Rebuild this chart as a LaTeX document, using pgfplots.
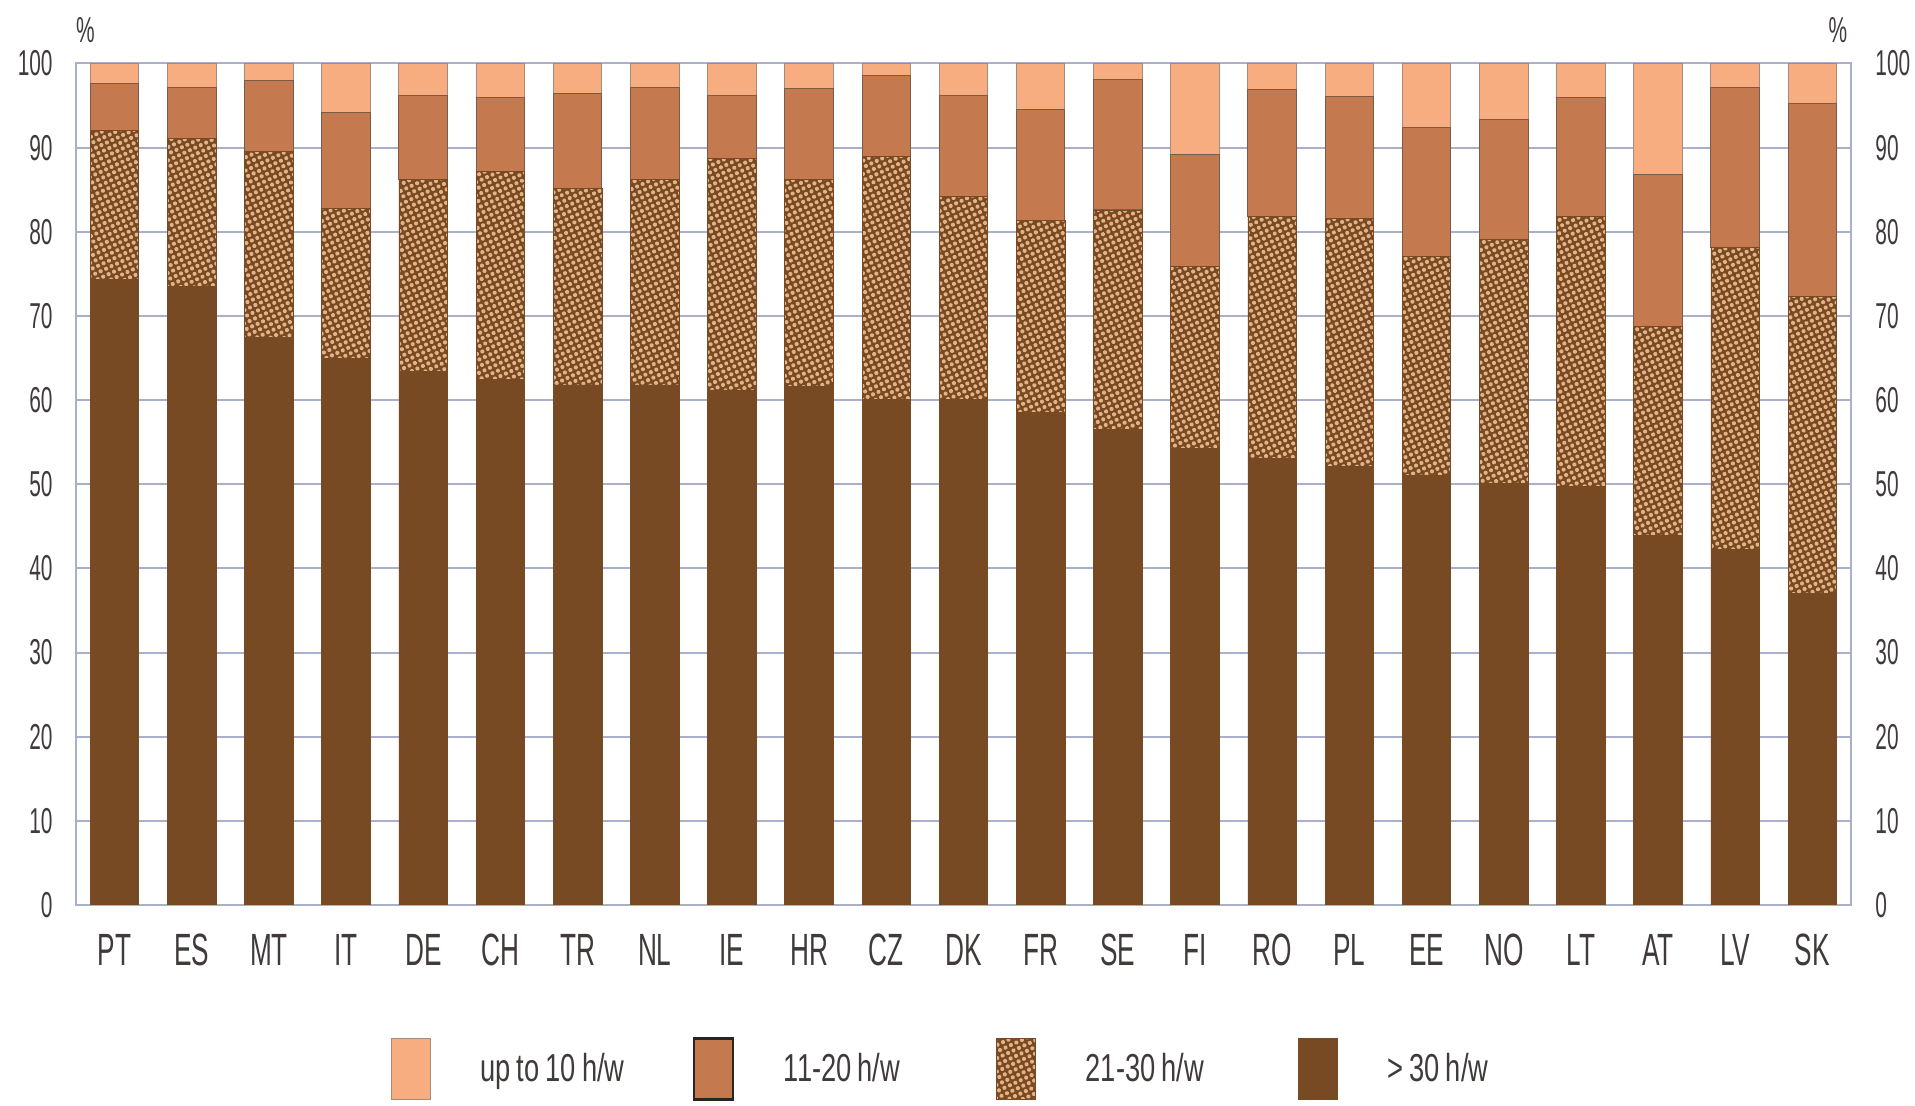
\documentclass[border=0pt]{standalone}
\usepackage{fontspec}
\setmainfont{Liberation Sans}[FakeStretch=0.58]
\newfontfamily\legfont{Liberation Sans}[FakeStretch=0.7]
\usepackage{pgfplots}
\pgfplotsset{compat=1.18}
\usepackage{pgfplotstable}
\usetikzlibrary{patterns.meta}
\definecolor{cLight}{HTML}{F7AD7F}
\definecolor{cMid}{HTML}{C47A4E}
\definecolor{cDark}{HTML}{774A23}
\definecolor{cPatBase}{HTML}{7A4822}
\definecolor{cPatDot}{HTML}{E0B585}
\definecolor{cGrid}{HTML}{AAB0CC}
\definecolor{cText}{HTML}{403A3A}
\definecolor{cEdge}{HTML}{7A5A48}

\pgfplotstableread{
x c a b m l
0 PT 74.3 17.7 5.6 2.4
1 ES 73.5 17.6 6.1 2.8
2 MT 67.4 22.1 8.5 2.0
3 IT 65.0 17.8 11.4 5.8
4 DE 63.4 22.8 10.0 3.8
5 CH 62.5 24.7 8.8 4.0
6 TR 61.8 23.3 11.3 3.6
7 NL 61.8 24.4 11.0 2.8
8 IE 61.2 27.5 7.5 3.8
9 HR 61.6 24.6 10.8 3.0
10 CZ 60.1 28.9 9.6 1.4
11 DK 60.1 24.1 12.0 3.8
12 FR 58.5 22.9 13.1 5.5
13 SE 56.5 26.1 15.5 1.9
14 FI 54.3 21.6 13.3 10.8
15 RO 53.1 28.7 15.1 3.1
16 PL 52.1 29.5 14.5 3.9
17 EE 51.0 26.1 15.3 7.6
18 NO 50.1 29.0 14.3 6.6
19 LT 49.7 32.1 14.1 4.1
20 AT 43.9 24.9 18.0 13.2
21 LV 42.3 35.8 19.1 2.8
22 SK 37.0 35.3 22.9 4.8
}\data

\pgfplotsset{
  mylegimg/.style={legend image code/.code={\draw[##1] (0pt,-15.25pt) rectangle (19.5pt,15.25pt);}},
}
\newcommand{\wsp}{\hspace{3pt}}

\begin{document}
\begin{tikzpicture}
\path[use as bounding box] (-38pt,-100.5pt) rectangle (919.5pt,452.5pt);
\begin{axis}[
  at={(0,0)}, anchor=south west,
  scale only axis, width=887.5pt, height=420.75pt,
  xmin=-0.5, xmax=22.5, ymin=0, ymax=100,
  ybar stacked, bar width=0.63,
  xtick={0,...,22},
  xticklabels from table={\data}{c},
  ytick={0,10,...,100},
  major tick length=0pt,
  ymajorgrids, grid style={cGrid, line width=1pt},
  axis line style={cGrid, line width=1pt},
  /pgf/number format/assume math mode=true,
  tick label style={text=cText},
  xticklabel style={font=\fontsize{22.6}{24}\selectfont, anchor=base, yshift=-30.5pt},
  yticklabel style={font=\fontsize{18}{20}\selectfont, anchor=east, inner xsep=0pt, xshift=-11.5pt},
  reverse legend,
  legend columns=4,
  legend cell align=left,
  legend style={draw=none, fill=none, inner sep=0pt, outer sep=0pt,
    at={(0.1772,-0.195)}, anchor=west,
    font=\legfont\fontsize{19.5}{21}\selectfont, text=cText,
    nodes={inner xsep=0pt, text width=106pt, align=left},
    /tikz/every odd column/.append style={column sep=25pt}},
]
\addplot[mylegimg, fill=cDark, draw=cDark, line width=0.4pt] table[x=x,y=a]{\data};
\addlegendentry{>\wsp 30\wsp h/w}
\addplot[mylegimg, fill=cPatBase, draw=cPatBase, line width=0.4pt,
  postaction={pattern={Dots[distance=3pt, radius=1.05pt, angle=25]}, pattern color=cPatDot}] table[x=x,y=b]{\data};
\addlegendentry{21-30\wsp h/w}
\addplot[fill=cMid, draw=cEdge, line width=0.5pt,
  legend image code/.code={\draw[fill=cMid, draw=black!85, line width=1.2pt] (0pt,-15.25pt) rectangle (19.5pt,15.25pt);}] table[x=x,y=m]{\data};
\addlegendentry{11-20\wsp h/w}
\addplot[mylegimg, fill=cLight, draw=cEdge!70, line width=0.5pt] table[x=x,y=l]{\data};
\addlegendentry{up\wsp to\wsp 10\wsp h/w}
\end{axis}
\begin{axis}[
  at={(0,0)}, anchor=south west,
  scale only axis, width=887.5pt, height=420.75pt,
  xmin=-0.5, xmax=22.5, ymin=0, ymax=100,
  axis y line*=right, axis x line=none,
  y axis line style={draw=none},
  ytick={0,10,...,100},
  major tick length=0pt,
  /pgf/number format/assume math mode=true,
  yticklabel style={font=\fontsize{18}{20}\selectfont, text=cText, anchor=west, inner xsep=0pt, xshift=12pt},
]
\end{axis}
\node[text=cText, font=\fontsize{18}{20}\selectfont] at (4.75pt,437.25pt) {\%};
\node[text=cText, font=\fontsize{18}{20}\selectfont] at (881pt,437.25pt) {\%};
\end{tikzpicture}
\end{document}
